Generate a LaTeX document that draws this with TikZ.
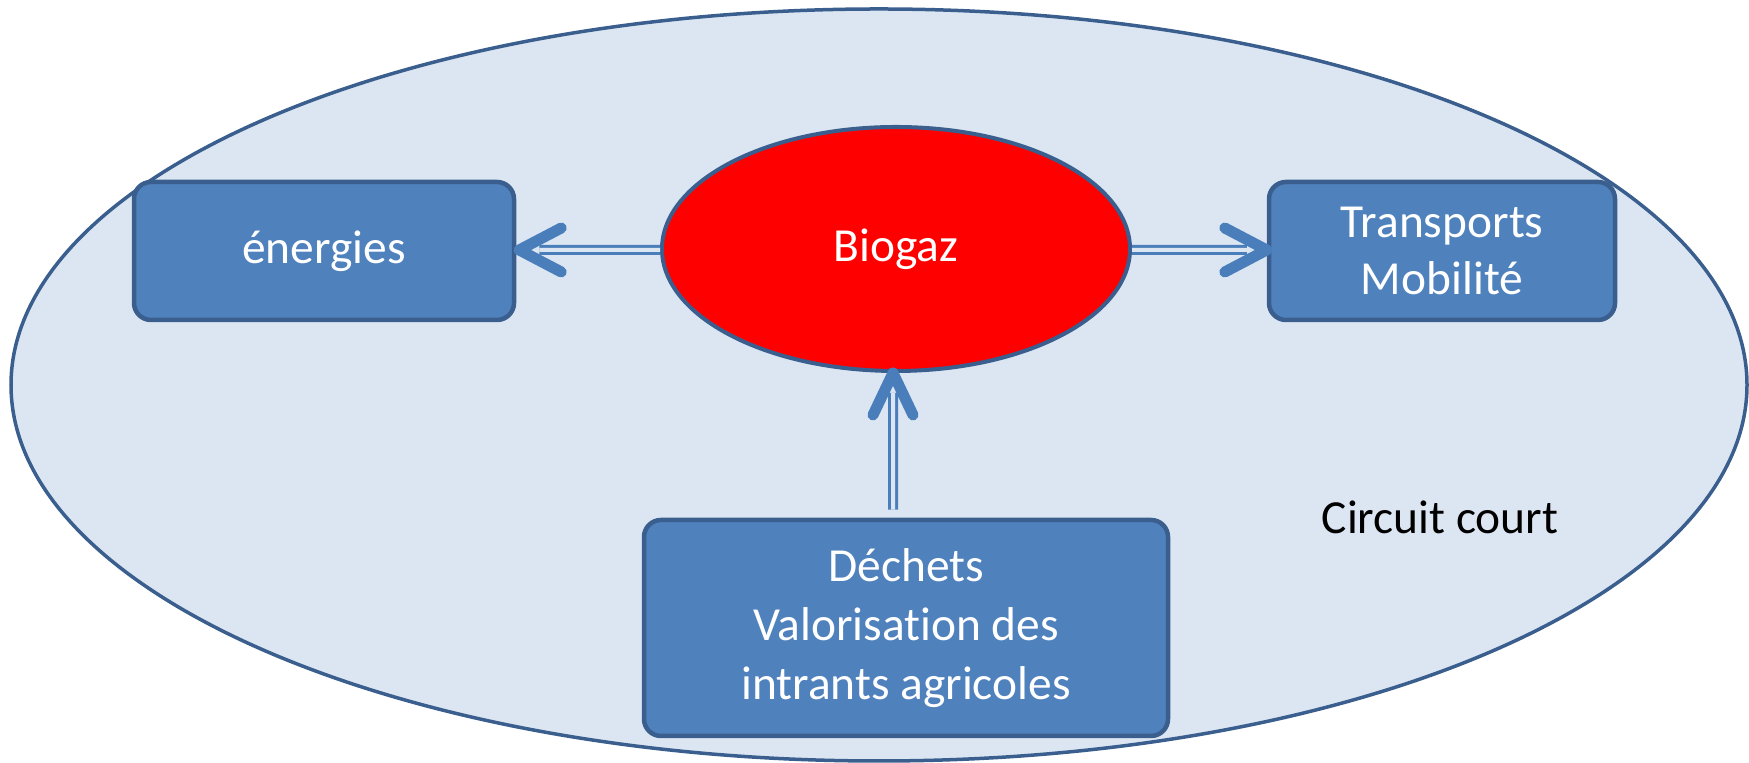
\documentclass[tikz,border=0pt]{standalone}
\usepackage{fontspec}
\setmainfont{Carlito}[Ligatures=NoCommon]
\usetikzlibrary{calc,shapes.geometric}
\definecolor{outerfill}{HTML}{DCE6F2}
\definecolor{darkline}{HTML}{3A5F8E}
\definecolor{boxfill}{HTML}{4F81BD}
\definecolor{arrowblue}{HTML}{4A7EBB}
\tikzset{
  boxnode/.style={draw=darkline, fill=boxfill, line width=0.045cm, rounded corners=0.17cm,
    text=white, align=center, inner sep=0pt, font=\fontsize{13.5}{16.8}\selectfont},
  dbl/.style={draw=arrowblue, line width=0.03cm, double=outerfill, double distance=0.04cm},
  chev/.style={draw=arrowblue, line width=0.11cm, line cap=round, line join=round},
}
\begin{document}
\begin{tikzpicture}
\useasboundingbox (0,0) rectangle (17.49,7.63);
\node[draw=darkline, fill=outerfill, line width=0.035cm, ellipse, minimum width=17.36cm, minimum height=7.52cm, inner sep=0pt] (outer) at (8.79,3.78) {};
\node[boxnode, minimum width=3.80cm, minimum height=1.38cm] (en) at (3.24,5.12) {\raisebox{-0.06cm}{énergies}};
\node[boxnode, minimum width=3.46cm, minimum height=1.38cm] (tr) at (14.42,5.12) {\raisebox{-0.02cm}{\shortstack{Transports\\[0.05cm]Mobilité}}};
\node[boxnode, minimum width=5.24cm, minimum height=2.16cm] (de) at (9.06,1.35) {Déchets\\Valorisation des\\intrants agricoles};
\node[ellipse, draw=darkline, fill=red, line width=0.04cm, minimum width=4.68cm, minimum height=2.44cm, inner sep=0pt, text=white, font=\fontsize{13.5}{16.8}\selectfont] (bg) at (8.96,5.14) {\raisebox{-0.06cm}{Biogaz}};
\node[font=\fontsize{13.5}{16.8}\selectfont] (cc) at (14.40,2.46) {Circuit court};
% left arrow
\coordinate (lt) at ($(en.east)+(0.03,0.01)$);
\draw[dbl] ($(bg.west)+(0,-0.01)$) -- ($(lt)+(0.2,0)$);
\draw[chev] ($(lt)+(0.42,0.22)$) -- (lt) -- ($(lt)+(0.42,-0.22)$);
% right arrow
\coordinate (rt) at ($(tr.west)+(0.0,0.01)$);
\draw[dbl] ($(bg.east)+(0,-0.01)$) -- ($(rt)+(-0.2,0)$);
\draw[chev] ($(rt)+(-0.42,0.22)$) -- (rt) -- ($(rt)+(-0.42,-0.22)$);
% up arrow
\coordinate (ut) at ($(bg.south)+(-0.03,0)$);
\draw[dbl] ($(de.north)+(-0.13,0.08)$) -- ($(ut)+(0,-0.2)$);
\draw[chev] ($(ut)+(-0.2,-0.42)$) -- (ut) -- ($(ut)+(0.2,-0.42)$);
\end{tikzpicture}
\end{document}
